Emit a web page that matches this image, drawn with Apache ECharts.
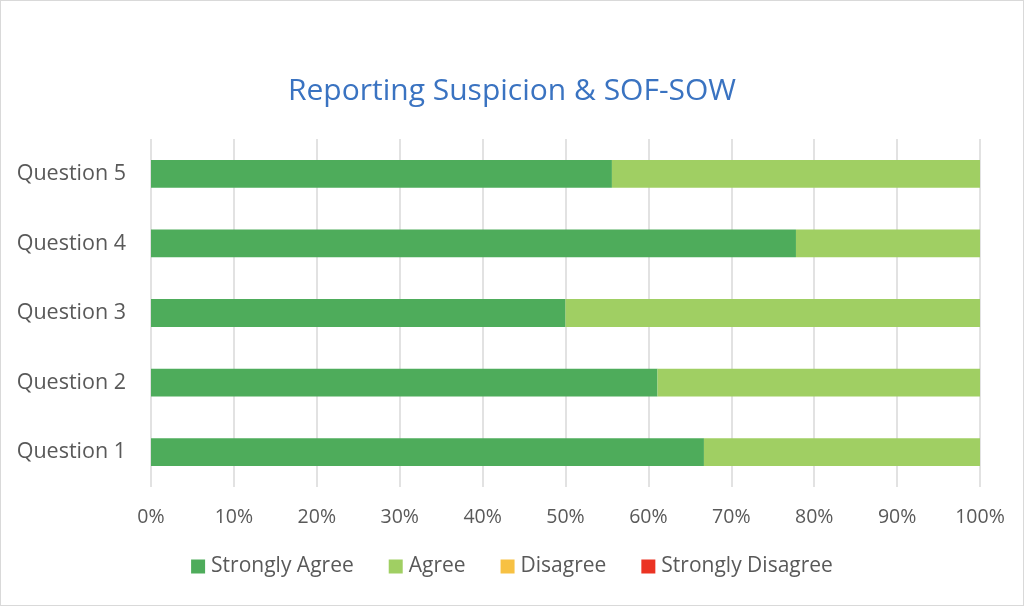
<!DOCTYPE html>
<html><head><meta charset="utf-8">
<style>html,body{margin:0;padding:0;background:#fff}#c{width:1024px;height:606px;box-sizing:border-box;border:1px solid #d9d9d9}</style>
<script src="https://cdn.jsdelivr.net/npm/echarts@6/dist/echarts.min.js"></script>
</head><body><div id="c"></div>
<script>
const categories = ['Question 1','Question 2','Question 3','Question 4','Question 5'];
const stronglyAgree = [66.7, 61.1, 50.0, 77.8, 55.6];
const agree = [33.3, 38.9, 50.0, 22.2, 44.4];
const disagree = [0, 0, 0, 0, 0];
const stronglyDisagree = [0, 0, 0, 0, 0];
const seriesNames = ['Strongly Agree','Agree','Disagree','Strongly Disagree'];
const colors = ['#4EAC5B','#A0CF63','#F7C143','#EB3323'];
const chart = echarts.init(document.getElementById('c'));
const font = 'Open Sans, Noto Sans, sans-serif';
const mk = (name, data, i) => ({name, type:'bar', stack:'t', data, barWidth:'40%', itemStyle:{color:colors[i]}});
chart.setOption({
  animation:false,
  title:{text:'Reporting Suspicion & SOF-SOW', left:'center', top:70, textStyle:{color:'#3A73C1', fontSize:30, fontWeight:'normal', fontFamily:font}},
  legend:{bottom:23, left:'center', itemWidth:14, itemHeight:14, itemGap:35, icon:'rect', textStyle:{color:'#595959', fontSize:21, fontFamily:font, padding:[0,0,0,1]}, data:seriesNames},
  grid:{left:150, right:43, top:138, bottom:118, containLabel:false},
  xAxis:{type:'value', min:0, max:100, interval:10, axisLabel:{formatter:'{value}%', color:'#595959', fontSize:19.5, fontFamily:font, margin:20}, splitLine:{lineStyle:{color:'#d9d9d9', width:1.5}}, axisLine:{show:false}, axisTick:{show:false}},
  yAxis:{type:'category', data:categories, axisLabel:{color:'#595959', fontSize:21.5, fontFamily:font, margin:25}, axisLine:{show:false}, axisTick:{show:false}},
  series:[mk(seriesNames[0], stronglyAgree,0), mk(seriesNames[1], agree,1), mk(seriesNames[2], disagree,2), mk(seriesNames[3], stronglyDisagree,3)]
});
</script></body></html>
